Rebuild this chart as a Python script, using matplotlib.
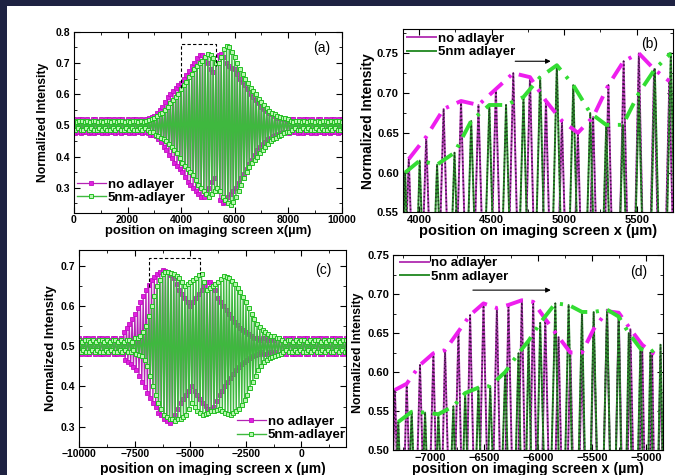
import numpy as np
import matplotlib.pyplot as plt
from matplotlib.patches import Rectangle
from matplotlib.ticker import MultipleLocator, FormatStrFormatter

plt.rcParams['font.family'] = ['Liberation Sans', 'DejaVu Sans']
plt.rcParams['font.weight'] = 'bold'
plt.rcParams['axes.labelweight'] = 'bold'

# ---- (a) whole screen, x > 0 : one fringe peak every 100 um, trough 50 um later
xa = np.arange(0, 10001, 100)
pink_a_peak = [0.52, 0.515, 0.52, 0.52, 0.515, 0.52, 0.515, 0.52, 0.52, 0.515,
               0.52, 0.515, 0.52, 0.52, 0.515, 0.52, 0.515, 0.52, 0.52, 0.515,
               0.52, 0.515, 0.52, 0.52, 0.515, 0.52, 0.515, 0.52, 0.525, 0.528,
               0.53, 0.54, 0.55, 0.56, 0.575, 0.59, 0.60, 0.61, 0.62, 0.628,
               0.635, 0.648, 0.66, 0.675, 0.69, 0.70, 0.715, 0.725, 0.725, 0.715,
               0.70, 0.68, 0.67, 0.70, 0.725, 0.728, 0.72, 0.70, 0.69, 0.685,
               0.68, 0.665, 0.65, 0.64, 0.63, 0.615, 0.60, 0.59, 0.58, 0.57,
               0.56, 0.552, 0.545, 0.54, 0.535, 0.53, 0.525, 0.522, 0.52, 0.52,
               0.515, 0.52, 0.52, 0.515, 0.52, 0.515, 0.52, 0.52, 0.515, 0.52,
               0.515, 0.52, 0.52, 0.515, 0.52, 0.515, 0.52, 0.52, 0.515, 0.52,
               0.52]
pink_a_trough = [0.475, 0.48, 0.475, 0.48, 0.48, 0.475, 0.48, 0.475, 0.48, 0.48,
                 0.475, 0.48, 0.475, 0.48, 0.48, 0.475, 0.48, 0.475, 0.48, 0.48,
                 0.475, 0.48, 0.475, 0.48, 0.48, 0.475, 0.48, 0.475, 0.47, 0.468,
                 0.465, 0.455, 0.445, 0.43, 0.42, 0.405, 0.395, 0.38, 0.37, 0.36,
                 0.35, 0.335, 0.32, 0.31, 0.30, 0.29, 0.28, 0.27, 0.27, 0.285,
                 0.30, 0.32, 0.33, 0.29, 0.26, 0.25, 0.255, 0.27, 0.28, 0.29,
                 0.30, 0.315, 0.33, 0.345, 0.36, 0.375, 0.39, 0.405, 0.42, 0.43,
                 0.44, 0.448, 0.455, 0.46, 0.465, 0.47, 0.472, 0.475, 0.478, 0.48,
                 0.475, 0.48, 0.48, 0.475, 0.48, 0.475, 0.48, 0.48, 0.475, 0.48,
                 0.475, 0.48, 0.48, 0.475, 0.48, 0.475, 0.48, 0.48, 0.475, 0.48,
                 0.48]
green_a_peak = [0.515, 0.51, 0.515, 0.515, 0.51, 0.515, 0.51, 0.515, 0.515, 0.51,
                0.515, 0.51, 0.515, 0.515, 0.51, 0.515, 0.51, 0.515, 0.515, 0.51,
                0.515, 0.51, 0.515, 0.515, 0.51, 0.515, 0.51, 0.515, 0.518, 0.52,
                0.525, 0.53, 0.535, 0.54, 0.55, 0.56, 0.57, 0.58, 0.59, 0.60,
                0.615, 0.63, 0.64, 0.655, 0.665, 0.68, 0.69, 0.70, 0.705, 0.72,
                0.73, 0.725, 0.715, 0.70, 0.70, 0.72, 0.745, 0.755, 0.75, 0.735,
                0.72, 0.70, 0.68, 0.665, 0.65, 0.635, 0.62, 0.61, 0.60, 0.585,
                0.575, 0.565, 0.555, 0.545, 0.54, 0.535, 0.53, 0.527, 0.525, 0.522,
                0.52, 0.515, 0.51, 0.515, 0.515, 0.51, 0.515, 0.51, 0.515, 0.515,
                0.51, 0.515, 0.51, 0.515, 0.515, 0.51, 0.515, 0.51, 0.515, 0.515,
                0.51]
green_a_trough = [0.485, 0.49, 0.485, 0.485, 0.49, 0.485, 0.49, 0.485, 0.485, 0.49,
                  0.485, 0.49, 0.485, 0.485, 0.49, 0.485, 0.49, 0.485, 0.485, 0.49,
                  0.485, 0.49, 0.485, 0.485, 0.49, 0.485, 0.49, 0.485, 0.48, 0.478,
                  0.47, 0.465, 0.46, 0.455, 0.45, 0.44, 0.43, 0.42, 0.41, 0.395,
                  0.38, 0.37, 0.36, 0.35, 0.34, 0.325, 0.31, 0.30, 0.29, 0.28,
                  0.27, 0.28, 0.29, 0.30, 0.29, 0.27, 0.26, 0.25, 0.245, 0.255,
                  0.27, 0.29, 0.31, 0.33, 0.35, 0.365, 0.38, 0.39, 0.40, 0.41,
                  0.42, 0.43, 0.44, 0.45, 0.455, 0.46, 0.465, 0.47, 0.475, 0.478,
                  0.48, 0.485, 0.49, 0.485, 0.485, 0.49, 0.485, 0.49, 0.485, 0.485,
                  0.49, 0.485, 0.49, 0.485, 0.485, 0.49, 0.485, 0.49, 0.485, 0.485,
                  0.49]

# ---- (b) zoom of (a): spike tops
pink_b_x = [3930, 4050, 4170, 4290, 4410, 4530, 4650, 4765, 4875, 4985,
            5095, 5200, 5305, 5410, 5515, 5620, 5725]
pink_b_y = [0.617, 0.645, 0.68, 0.69, 0.685, 0.705, 0.725, 0.72, 0.69, 0.665,
            0.65, 0.67, 0.71, 0.74, 0.75, 0.73, 0.715]
green_b_x = [3905, 4005, 4125, 4245, 4360, 4485, 4600, 4720, 4835, 4950,
             5063, 5180, 5290, 5405, 5515, 5625, 5735]
green_b_y = [0.60, 0.615, 0.61, 0.625, 0.665, 0.685, 0.685, 0.695, 0.72, 0.735,
             0.71, 0.675, 0.66, 0.66, 0.70, 0.73, 0.75]
low_b = 0.30

# ---- (c) whole screen, x < 0 : one fringe peak every 125 um
xc = np.arange(-10000, 2001, 125)
pink_c_peak = [0.52, 0.515, 0.52, 0.52, 0.515, 0.52, 0.515, 0.52, 0.52, 0.515,
               0.52, 0.515, 0.52, 0.52, 0.515, 0.52, 0.535, 0.545, 0.555, 0.567,
               0.58, 0.595, 0.61, 0.625, 0.64, 0.652, 0.665, 0.673, 0.68, 0.686,
               0.69, 0.688, 0.685, 0.678, 0.67, 0.655, 0.64, 0.63, 0.62, 0.61,
               0.60, 0.61, 0.62, 0.63, 0.64, 0.65, 0.66, 0.66, 0.655, 0.64,
               0.62, 0.61, 0.60, 0.59, 0.58, 0.57, 0.56, 0.552, 0.545, 0.54,
               0.535, 0.53, 0.525, 0.522, 0.52, 0.515, 0.52, 0.52, 0.515, 0.52,
               0.515, 0.52, 0.52, 0.515, 0.52, 0.515, 0.52, 0.52, 0.515, 0.52,
               0.515, 0.52, 0.52, 0.515, 0.52, 0.515, 0.52, 0.52, 0.515, 0.52,
               0.515, 0.52, 0.52, 0.515, 0.52, 0.515, 0.52]
pink_c_trough = [0.48, 0.485, 0.48, 0.48, 0.485, 0.48, 0.485, 0.48, 0.48, 0.485,
                 0.48, 0.485, 0.48, 0.48, 0.485, 0.48, 0.465, 0.46, 0.455, 0.448,
                 0.44, 0.425, 0.41, 0.398, 0.385, 0.372, 0.36, 0.348, 0.335, 0.328,
                 0.32, 0.315, 0.31, 0.32, 0.33, 0.345, 0.36, 0.37, 0.38, 0.39,
                 0.40, 0.39, 0.38, 0.37, 0.36, 0.352, 0.345, 0.345, 0.35, 0.365,
                 0.38, 0.39, 0.40, 0.41, 0.42, 0.43, 0.44, 0.448, 0.455, 0.46,
                 0.465, 0.47, 0.475, 0.478, 0.48, 0.485, 0.48, 0.48, 0.485, 0.48,
                 0.485, 0.48, 0.48, 0.485, 0.48, 0.485, 0.48, 0.48, 0.485, 0.48,
                 0.485, 0.48, 0.48, 0.485, 0.48, 0.485, 0.48, 0.48, 0.485, 0.48,
                 0.485, 0.48, 0.48, 0.485, 0.48, 0.485, 0.48]
green_c_peak = [0.515, 0.51, 0.515, 0.515, 0.51, 0.515, 0.51, 0.515, 0.515, 0.51,
                0.515, 0.51, 0.515, 0.515, 0.51, 0.515, 0.51, 0.515, 0.515, 0.51,
                0.52, 0.522, 0.525, 0.535, 0.55, 0.575, 0.60, 0.625, 0.65, 0.665,
                0.68, 0.685, 0.685, 0.682, 0.68, 0.675, 0.67, 0.66, 0.65, 0.655,
                0.66, 0.665, 0.67, 0.678, 0.68, 0.66, 0.64, 0.645, 0.65, 0.655,
                0.66, 0.668, 0.675, 0.672, 0.67, 0.662, 0.655, 0.645, 0.635, 0.622,
                0.61, 0.595, 0.58, 0.567, 0.555, 0.547, 0.54, 0.535, 0.53, 0.527,
                0.525, 0.522, 0.52, 0.515, 0.51, 0.515, 0.515, 0.51, 0.515, 0.51,
                0.515, 0.515, 0.51, 0.515, 0.51, 0.515, 0.515, 0.51, 0.515, 0.51,
                0.515, 0.515, 0.51, 0.515, 0.51, 0.515, 0.515]
green_c_trough = [0.485, 0.49, 0.485, 0.485, 0.49, 0.485, 0.49, 0.485, 0.485, 0.49,
                  0.485, 0.49, 0.485, 0.485, 0.49, 0.485, 0.49, 0.485, 0.485, 0.49,
                  0.48, 0.478, 0.475, 0.465, 0.45, 0.425, 0.40, 0.38, 0.36, 0.345,
                  0.33, 0.325, 0.32, 0.318, 0.315, 0.318, 0.32, 0.325, 0.33, 0.345,
                  0.36, 0.35, 0.34, 0.335, 0.33, 0.332, 0.335, 0.338, 0.34, 0.342,
                  0.345, 0.34, 0.335, 0.332, 0.33, 0.335, 0.34, 0.345, 0.355, 0.367,
                  0.38, 0.395, 0.41, 0.425, 0.44, 0.45, 0.46, 0.465, 0.47, 0.473,
                  0.475, 0.478, 0.48, 0.485, 0.49, 0.485, 0.485, 0.49, 0.485, 0.49,
                  0.485, 0.485, 0.49, 0.485, 0.49, 0.485, 0.485, 0.49, 0.485, 0.49,
                  0.485, 0.485, 0.49, 0.485, 0.49, 0.485, 0.485]

# ---- (d) zoom of (c): spike tops
pink_d_x = [-7325, -7216, -7093, -6969, -6861, -6737, -6629, -6505, -6381, -6274,
            -6150, -6045, -5933, -5810, -5701, -5593, -5485, -5361, -5253, -5145,
            -5036, -4944, -4866]
pink_d_y = [0.577, 0.585, 0.609, 0.624, 0.628, 0.652, 0.673, 0.688, 0.682, 0.686,
            0.692, 0.69, 0.668, 0.645, 0.625, 0.625, 0.655, 0.678, 0.676, 0.655,
            0.635, 0.625, 0.62]
green_d_x = [-7294, -7170, -7046, -6923, -6784, -6675, -6552, -6443, -6304, -6181,
             -6088, -5980, -5840, -5717, -5593, -5485, -5361, -5253, -5160, -5052,
             -4960, -4866]
green_d_y = [0.536, 0.549, 0.548, 0.546, 0.556, 0.573, 0.58, 0.582, 0.60, 0.624,
             0.64, 0.663, 0.688, 0.686, 0.677, 0.677, 0.68, 0.671, 0.65, 0.63,
             0.625, 0.635]
low_d = 0.30

box_a = (4000, 5300, 0.62, 0.69, 0.762)
box_c = (-6850, -4550, 0.648, 0.68, 0.719)

PINK = '#e020e0'
PINK_ENV = '#ee1eee'
GREEN = '#2f8f2f'
GREEN_ENV = '#33dd33'


def zigzag(x, peak, trough, half):
    xs = np.column_stack([x, x + half]).ravel()
    ys = np.column_stack([peak, trough]).ravel()
    return xs, ys


def spikes(xp, yp, low):
    xp = np.asarray(xp, float)
    d = np.diff(xp)
    xt = np.concatenate([[xp[0] - d[0] / 2], xp[:-1] + d / 2, [xp[-1] + d[-1] / 2]])
    xs = np.empty(2 * len(xp) + 1)
    ys = np.full(2 * len(xp) + 1, low)
    xs[0::2] = xt
    xs[1::2] = xp
    ys[1::2] = yp
    return xs, ys


def style(ax, xmaj, xmin, ymaj, ymin, yfmt, fs):
    ax.xaxis.set_major_locator(MultipleLocator(xmaj))
    ax.xaxis.set_minor_locator(MultipleLocator(xmin))
    ax.yaxis.set_major_locator(MultipleLocator(ymaj))
    ax.yaxis.set_minor_locator(MultipleLocator(ymin))
    ax.yaxis.set_major_formatter(FormatStrFormatter(yfmt))
    ax.tick_params(which='both', direction='in', top=True, right=True,
                   labelsize=fs)
    ax.tick_params(axis='x', pad=2)
    ax.tick_params(axis='y', pad=3)
    ax.tick_params(which='major', length=4)
    ax.tick_params(which='minor', length=2)


def full_panel(ax, x, half, pp, pt, gp, gt, box):
    xs, ys = zigzag(x, pp, pt, half)
    ax.plot(xs, ys, color='#b424b4', lw=0.9, marker='s', ms=3.4,
            mfc=PINK, mec='#c010c0', mew=0.6, label='no adlayer')
    xs, ys = zigzag(x, gp, gt, half)
    ax.plot(xs, ys, color='#3fb83f', lw=1.0, marker='s', ms=2.8,
            mfc='#b8f5b0', mec='#22c022', mew=0.7, label='5nm-adlayer')
    x0, x1, yl, yr, yt = box
    ax.plot([x0, x0, x1, x1], [yl, yt, yt, yr], color='black', lw=0.8,
            ls=(0, (3, 2)))


def zoom_panel(ax, px, py, gx, gy, low):
    xs, ys = spikes(px, py, low)
    ax.plot(xs, ys, color='#b53ab5', lw=1.4, label='no adlayer')
    ax.plot(xs, ys, color='#3a1540', lw=1.1, ls=(0, (1, 1.5)))
    xs, ys = spikes(gx, gy, low)
    ax.plot(xs, ys, color=GREEN, lw=1.4, label='5nm adlayer')
    ax.plot(xs, ys, color='#1d3d1d', lw=1.1, ls=(0, (1, 1.5)))
    ax.plot(px, py, color=PINK_ENV, lw=2.8, dashes=(4.5, 2.2, 0.8, 2.2))
    ax.plot(gx, gy, color=GREEN_ENV, lw=2.8, dashes=(4.5, 2.2, 0.8, 2.2))


def legend(ax, anchor):
    ax.legend(loc='upper left', bbox_to_anchor=anchor, frameon=False,
              prop=dict(size=9.5, weight='bold'), handlelength=2.2,
              handletextpad=0.15, borderpad=0, borderaxespad=0,
              labelspacing=0.1)


fig = plt.figure(figsize=(6.75, 4.75), dpi=100)
fig.patch.set_facecolor('#1e2242')
fig.add_artist(Rectangle((7 / 675, 0), 1, 469 / 475, transform=fig.transFigure,
                         facecolor='white', edgecolor='none', zorder=-10))

# (a)
ax = fig.add_axes([0.1096, 0.5522, 0.3966, 0.381])
full_panel(ax, xa, 50, pink_a_peak, pink_a_trough, green_a_peak, green_a_trough, box_a)
ax.set_xlim(0, 10000)
ax.set_ylim(0.22, 0.8)
style(ax, 2000, 1000, 0.1, 0.05, '%.1f', 7.5)
ax.set_xlabel('position on imaging screen x(\u00b5m)', fontsize=9.4)
ax.set_ylabel('Normalized Intensity', fontsize=8.7)
ax.xaxis.set_label_coords(0.5, -0.068)
ax.yaxis.set_label_coords(-0.093, 0.5)
ax.text(0.925, 0.908, '(a)', transform=ax.transAxes, fontsize=10,
        fontweight='normal', ha='center', va='center')
legend(ax, (0.01, 0.19))

# (b)
ax = fig.add_axes([0.597, 0.553, 0.4, 0.385])
zoom_panel(ax, pink_b_x, pink_b_y, green_b_x, green_b_y, low_b)
ax.annotate('', xy=(4927, 0.740), xytext=(4644, 0.740),
            arrowprops=dict(arrowstyle='-|>', color='black', lw=0.8,
                            mutation_scale=7))
ax.set_xlim(3890, 5750)
ax.set_ylim(0.55, 0.78)
style(ax, 500, 250, 0.05, 0.025, '%.2f', 8)
ax.set_xlabel('position on imaging screen x (\u00b5m)', fontsize=10.5)
ax.set_ylabel('Normalized Intensity', fontsize=10)
ax.xaxis.set_label_coords(0.5, -0.066)
ax.yaxis.set_label_coords(-0.104, 0.5)
ax.text(0.915, 0.923, '(b)', transform=ax.transAxes, fontsize=10,
        fontweight='normal', ha='center', va='center')
legend(ax, (0.014, 0.984))

# (c)
ax = fig.add_axes([0.1175, 0.0596, 0.395, 0.414])
full_panel(ax, xc, 62.5, pink_c_peak, pink_c_trough, green_c_peak, green_c_trough, box_c)
ax.set_xlim(-10000, 2000)
ax.set_ylim(0.25, 0.74)
style(ax, 2500, 1250, 0.1, 0.05, '%.1f', 7.5)
ax.set_xlabel('position on imaging screen x (\u00b5m)', fontsize=10)
ax.set_ylabel('Normalized Intensity', fontsize=9.3)
ax.xaxis.set_label_coords(0.5, -0.076)
ax.yaxis.set_label_coords(-0.085, 0.5)
ax.text(0.917, 0.898, '(c)', transform=ax.transAxes, fontsize=10,
        fontweight='normal', ha='center', va='center')
legend(ax, (0.59, 0.158))

# (d)
ax = fig.add_axes([0.5827, 0.0526, 0.4, 0.4105])
zoom_panel(ax, pink_d_x, pink_d_y, green_d_x, green_d_y, low_d)
ax.annotate('', xy=(-5856, 0.705), xytext=(-6629, 0.705),
            arrowprops=dict(arrowstyle='-|>', color='black', lw=0.8,
                            mutation_scale=7))
ax.set_xlim(-7340, -4840)
ax.set_ylim(0.50, 0.75)
style(ax, 500, 250, 0.05, 0.025, '%.2f', 8)
ax.set_xlabel('position on imaging screen x (\u00b5m)', fontsize=10.3)
ax.set_ylabel('Normalized Intensity', fontsize=8.8)
ax.xaxis.set_label_coords(0.5, -0.064)
ax.yaxis.set_label_coords(-0.107, 0.5)
ax.text(0.91, 0.914, '(d)', transform=ax.transAxes, fontsize=10,
        fontweight='normal', ha='center', va='center')
legend(ax, (0.025, 0.99))

fig.savefig('out.png', dpi=100)
